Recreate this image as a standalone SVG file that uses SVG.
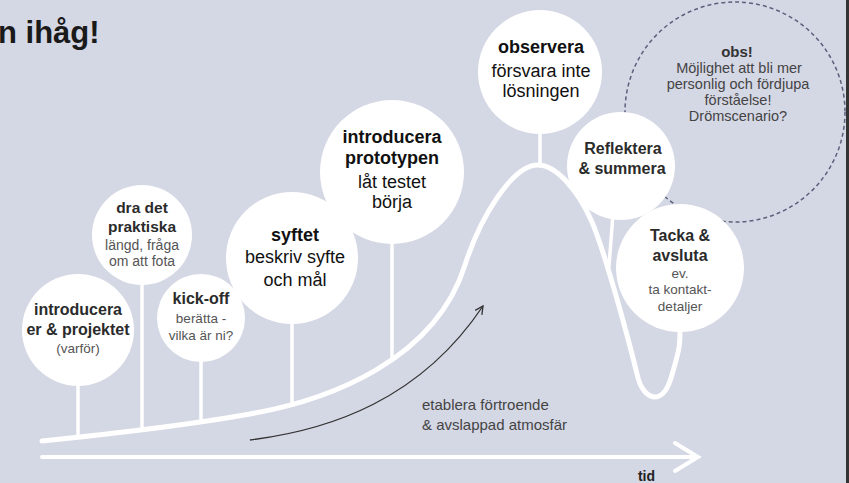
<svg xmlns="http://www.w3.org/2000/svg" width="849" height="483" viewBox="0 0 849 483">
<defs>
<style>
.bg{fill:#d4d7e4}
.node{fill:#ffffff}
.t{font-family:"Liberation Sans",Arial,Helvetica,sans-serif;text-anchor:middle}
.b{font-weight:bold}
.big{font-size:18px;fill:#111}
.med{font-size:16px;fill:#2b2b2b}
.sm{font-size:13.5px;fill:#555}
.obs{font-size:14.5px;fill:#444}
.wl{fill:none;stroke:#ffffff;stroke-linecap:round}
.stem{stroke-width:3.5}
</style>
<marker id="ah" markerUnits="userSpaceOnUse" markerWidth="12" markerHeight="12" refX="9" refY="5" orient="auto">
<path d="M1,1 L9,5 L1,9" fill="none" stroke="#333" stroke-width="1.3"/>
</marker>
</defs>
<rect class="bg" x="0" y="0" width="849" height="483"/>
<rect x="846" y="0" width="3" height="483" fill="#333"/>
<text x="-2" y="43" font-family="Liberation Sans,Arial,sans-serif" font-weight="bold" font-size="31" fill="#1a1a1a">n ihåg!</text>

<g id="obs-note">
<circle cx="735" cy="112" r="110" fill="none" stroke="#5c607c" stroke-width="1.5" stroke-dasharray="4 3"/>
<text class="t b" x="737" y="57" font-size="15" fill="#333">obs!</text>
<text class="t obs" x="739" y="73">Möjlighet att bli mer</text>
<text class="t obs" x="738" y="89">personlig och fördjupa</text>
<text class="t obs" x="738" y="105">förståelse!</text>
<text class="t obs" x="738" y="121">Drömscenario?</text>
</g>

<g id="connectors">
<path class="wl" stroke-width="5" d="M42,441 C130,432 200,423 250,414 C330,400 435,360 465,265 C480,218 512,165 538,165 C556,165 578,190 592,222 C606,255 630,345 638,378 C643,398 662,408 671,378 S680,345 680,330"/>
<line class="wl stem" x1="78" y1="380" x2="78" y2="436"/>
<line class="wl stem" x1="142" y1="280" x2="142" y2="429"/>
<line class="wl stem" x1="201" y1="355" x2="201" y2="422"/>
<line class="wl stem" x1="292" y1="318" x2="292" y2="404"/>
<line class="wl stem" x1="392" y1="238" x2="392" y2="359"/>
<line class="wl stem" x1="540" y1="130" x2="540" y2="166"/>
<line class="wl stem" x1="613" y1="214" x2="609" y2="266"/>
<path d="M250,440 C330,430 420,400 483,306" fill="none" stroke="#333" stroke-width="1.3" marker-end="url(#ah)"/>
<path class="wl" stroke-width="4" d="M42,457 L696,457 M675,443 L698,457 L675,471"/>
</g>

<g id="n-introducera-er">
<circle class="node" cx="78" cy="330" r="56"/>
<text class="t b med" x="78" y="315">introducera</text>
<text class="t b med" x="78" y="335">er &amp; projektet</text>
<text class="t sm" x="78" y="353">(varför)</text>
</g>

<g id="n-dra-det">
<circle class="node" cx="142" cy="235" r="50"/>
<text class="t b" x="142" y="213" font-size="15.5" fill="#2b2b2b">dra det</text>
<text class="t b" x="142" y="232" font-size="15.5" fill="#2b2b2b">praktiska</text>
<text class="t" x="142" y="250" font-size="14" fill="#555">längd, fråga</text>
<text class="t" x="142" y="266" font-size="14" fill="#555">om att fota</text>
</g>

<g id="n-kickoff">
<circle class="node" cx="201" cy="318" r="44"/>
<text class="t b med" x="201" y="304">kick-off</text>
<text class="t sm" x="201" y="323">berätta -</text>
<text class="t sm" x="201" y="340">vilka är ni?</text>
</g>

<g id="n-syftet">
<circle class="node" cx="292" cy="258" r="66"/>
<text class="t b big" x="295" y="241">syftet</text>
<text class="t big" x="295" y="263">beskriv syfte</text>
<text class="t big" x="295" y="286">och mål</text>
</g>

<g id="n-prototypen">
<circle class="node" cx="392" cy="172" r="72"/>
<text class="t b big" x="392" y="143">introducera</text>
<text class="t b big" x="392" y="164">prototypen</text>
<text class="t big" x="392" y="188">låt testet</text>
<text class="t big" x="392" y="208">börja</text>
</g>

<g id="n-observera">
<circle class="node" cx="540" cy="72" r="62"/>
<text class="t b big" x="541" y="53">observera</text>
<text class="t big" x="541" y="77">försvara inte</text>
<text class="t big" x="541" y="97">lösningen</text>
</g>

<g id="n-reflektera">
<circle class="node" cx="621" cy="166" r="54"/>
<text class="t b med" x="623" y="154">Reflektera</text>
<text class="t b med" x="622" y="174">&amp; summera</text>
</g>

<g id="n-tacka">
<circle class="node" cx="680" cy="268" r="64"/>
<text class="t b med" x="680" y="241">Tacka &amp;</text>
<text class="t b med" x="680" y="261">avsluta</text>
<text class="t sm" x="680" y="278">ev.</text>
<text class="t sm" x="680" y="294">ta kontakt-</text>
<text class="t sm" x="680" y="311">detaljer</text>
</g>

<g id="label-etablera">
<text x="422" y="410" font-family="Liberation Sans,Arial,sans-serif" font-size="15" fill="#444">etablera förtroende</text>
<text x="422" y="430" font-family="Liberation Sans,Arial,sans-serif" font-size="15" fill="#444">&amp; avslappad atmosfär</text>
</g>
<text x="655" y="481" text-anchor="end" font-family="Liberation Sans,Arial,sans-serif" font-weight="bold" font-size="14" fill="#222">tid</text>
</svg>
